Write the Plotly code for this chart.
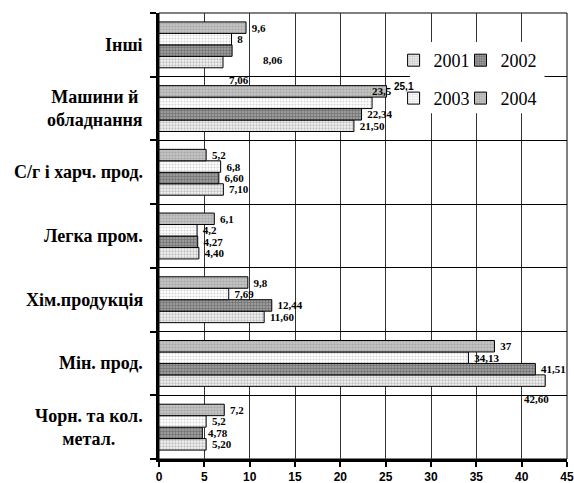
import plotly.graph_objects as go

# categories listed bottom -> top (plotly puts the first category at the bottom)
categories = [
    "Чорн. та кол.<br>метал.",
    "Мін. прод.",
    "Хім.продукція",
    "Легка пром.",
    "С/г і харч. прод.",
    "Машини й<br>обладнання",
    "Інші",
]
years = ["2001", "2002", "2003", "2004"]
v2001 = [5.20, 42.60, 11.60, 4.40, 7.10, 21.50, 7.06]
v2002 = [4.78, 41.51, 12.44, 4.27, 6.60, 22.34, 8.06]
v2003 = [5.2, 34.13, 7.69, 4.2, 6.8, 23.5, 8]
v2004 = [7.2, 37, 9.8, 6.1, 5.2, 25.1, 9.6]
values = [v2001, v2002, v2003, v2004]
decimals = [2, 2, None, None]

# labels that sit away from the bar end in the original (series, category) -> (dx, dy) px
moved_labels = {
    (0, 6): (16, -35),
    (1, 6): (41, -15),
    (2, 5): (10, 18),
    (3, 5): (17, 22),
    (0, 1): (-9, -36),
}

patterns = [
    dict(shape=".", bgcolor="#f4f4f4", fgcolor="#8a8a8a", size=3, solidity=0.45),
    dict(shape="+", bgcolor="#9a9a9a", fgcolor="#3c3c3c", size=3, solidity=0.35),
    dict(shape=".", bgcolor="#ffffff", fgcolor="#a8a8a8", size=3, solidity=0.35),
    dict(shape=".", bgcolor="#c4c4c4", fgcolor="#858585", size=3, solidity=0.4),
]

SERIF = "Liberation Serif, Times New Roman, serif"
SANS = "Liberation Sans, Arial, sans-serif"
NBSP = "\u00a0"


def fmt(v, d):
    s = f"{v:.{d}f}" if d is not None else f"{v:g}"
    return s.replace(".", ",")


fig = go.Figure()
annotations = []
legend_ids = ["legend", "legend2", "legend3", "legend4"]
for i, (year, vals) in enumerate(zip(years, values)):
    texts = []
    for j, v in enumerate(vals):
        label = fmt(v, decimals[i])
        if (i, j) in moved_labels:
            dx, dy = moved_labels[(i, j)]
            annotations.append(dict(
                x=v, y=categories[j], xref="x", yref="y", text=f"<b>{label}</b>",
                showarrow=False, xanchor="center", xshift=dx, yshift=dy,
                font=dict(family=SERIF if i < 3 else SANS, size=11 if i < 3 else 10, color="black"),
            ))
            texts.append("")
        else:
            texts.append(f"{NBSP}<b>{label}</b>")
    fig.add_trace(go.Bar(
        x=vals,
        y=categories,
        orientation="h",
        name=year,
        text=texts,
        textposition="outside",
        constraintext="none",
        cliponaxis=False,
        textfont=dict(family=SERIF, size=11, color="black"),
        marker=dict(color=patterns[i]["bgcolor"], pattern=patterns[i],
                    line=dict(color="black", width=1)),
        legend=legend_ids[i],
    ))

# category labels, centred line by line like the original
for c in categories:
    annotations.append(dict(
        x=-0.034, y=c, xref="paper", yref="y", text=f"<b>{c}</b>",
        showarrow=False, xanchor="right", align="center",
        font=dict(family=SERIF, size=18, color="black"),
    ))

# one legend per entry so the 2x2 layout matches the original
legend_style = dict(
    bgcolor="rgba(0,0,0,0)", borderwidth=0, itemwidth=30,
    font=dict(family=SERIF, size=18, color="black"),
    xanchor="left", yanchor="top",
)
legend_pos = [(0.575, 0.935), (0.739, 0.935), (0.575, 0.85), (0.739, 0.85)]

fig.update_layout(
    width=574,
    height=483,
    autosize=False,
    margin=dict(l=159, r=7, t=13, b=24, autoexpand=False),
    paper_bgcolor="white",
    plot_bgcolor="white",
    barmode="group",
    bargap=0.28,
    bargroupgap=0,
    showlegend=True,
    annotations=annotations,
    shapes=[
        dict(type="rect", xref="paper", yref="paper", x0=0.615, x1=0.945, y0=0.775, y1=0.935,
             fillcolor="white", line=dict(width=0), layer="above"),
        dict(type="rect", xref="paper", yref="paper", x0=0, x1=1, y0=0, y1=1,
             line=dict(color="black", width=1), layer="below"),
    ],
    xaxis=dict(
        range=[0, 45], dtick=5, showgrid=True, gridcolor="#333333", gridwidth=1,
        showline=True, linecolor="black", linewidth=3,
        ticks="outside", ticklen=5, tickwidth=2, tickcolor="black",
        tickfont=dict(family=SANS, size=12, color="black", weight="bold"),
        zeroline=False, fixedrange=True,
    ),
    yaxis=dict(
        type="category", tickson="boundaries", showgrid=True, gridcolor="black", gridwidth=1,
        showline=True, linecolor="black", linewidth=3,
        ticks="outside", ticklen=6, tickwidth=2, tickcolor="black",
        showticklabels=False, fixedrange=True,
    ),
)
for lid, (lx, ly) in zip(legend_ids, legend_pos):
    fig.update_layout({lid: dict(legend_style, x=lx, y=ly)})

fig.write_html("out.html", config={"displayModeBar": False},
               post_script="document.body.style.margin='0';")
